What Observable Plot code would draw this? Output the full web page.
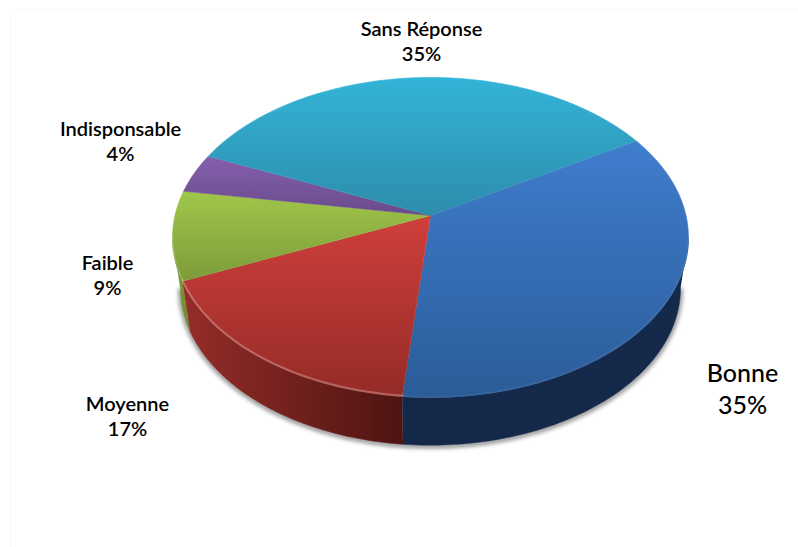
<!DOCTYPE html>
<html>
<head>
<meta charset="utf-8">
<script src="https://cdn.jsdelivr.net/npm/d3@7"></script>
<script src="https://cdn.jsdelivr.net/npm/@observablehq/plot@0.6"></script>
<style>
  html, body { margin: 0; padding: 0; background: #fff; }
</style>
</head>
<body>
<div id="chart"></div>
<script>
// Slice order runs clockwise from the upper right of the disc.
const names = ["Bonne", "Moyenne", "Faible", "Indisponsable", "Sans Réponse"];
const shares = [35, 17, 9, 4, 35];
const faceTop = ["#3f7dce", "#cf3f3b", "#9fc749", "#8560ad", "#33b4d8"];
const faceBottom = ["#2b5c98", "#952b27", "#7d9b3a", "#694a8a", "#2d8cab"];
const wallLeft = ["#14284a", "#952d29", "#7c9a36", "#5a3d78", "#24708a"];
const wallRight = ["#152a4b", "#4d1411", "#6e8a2f", "#5a3d78", "#24708a"];
const rimOpacity = [0.04, 0.26, 0.15, 0.15, 0.15];

// Perspective tilt of the disc and thickness of the drum.
const startAngle = 30.5;
const tilt = -0.1375;
const frontLimit = 8; // degrees below horizontal where the wall comes into view
const wallScaleX = 0.969;
const wallScaleY = 0.98;
const wallDrop = 0.327;

const toRad = (d) => (d * Math.PI) / 180;

function topPoint(deg) {
  const X = Math.cos(toRad(deg));
  const Y = -Math.sin(toRad(deg));
  const w = 1 + tilt * Y;
  return {x: X / w, y: Y / w};
}

function bottomPoint(deg) {
  const p = topPoint(deg);
  return {x: p.x * wallScaleX, y: p.y * wallScaleY + wallDrop};
}

// Angles run downward (clockwise) from `from` to `to`, inclusive.
function arc(from, to, at) {
  const steps = Math.max(2, Math.ceil(Math.abs(from - to)));
  return d3.range(steps + 1).map((i) => at(from + ((to - from) * i) / steps));
}

let running = 0;
const total = d3.sum(shares);
const slices = shares.map((share, i) => {
  const from = startAngle - (360 * running) / total;
  running += share;
  const to = startAngle - (360 * running) / total;
  return {i, from, to};
});

const frontStart = -frontLimit;
const frontEnd = -180 + frontLimit;

const gradients = () => {
  const defs = d3.create("svg:defs");
  slices.forEach(({i}) => {
    const face = defs.append("linearGradient").attr("id", `face-${i}`)
      .attr("x1", 0).attr("y1", 0).attr("x2", 0).attr("y2", 1);
    face.append("stop").attr("offset", 0).attr("stop-color", faceTop[i]);
    face.append("stop").attr("offset", 1).attr("stop-color", faceBottom[i]);
    const wall = defs.append("linearGradient").attr("id", `wall-${i}`)
      .attr("x1", 0).attr("y1", 0).attr("x2", 1).attr("y2", 0);
    wall.append("stop").attr("offset", 0).attr("stop-color", wallLeft[i]);
    wall.append("stop").attr("offset", 1).attr("stop-color", wallRight[i]);
  });
  return defs.node();
};

const marks = [gradients, Plot.frame({stroke: "#f9f9f9", insetLeft: 10, insetTop: 9, insetRight: -5, insetBottom: -5})];

// Soft shadow under the lower edge of the drum.
marks.push(Plot.line(arc(frontStart, frontEnd, bottomPoint), {
  x: "x", y: "y", stroke: "#555", strokeWidth: 4, strokeOpacity: 0.75, dy: 1,
  imageFilter: "blur(2px)"
}));

// Outer walls, only where a slice reaches the front of the drum.
slices.forEach(({i, from, to}) => {
  const a = Math.min(from, frontStart);
  const b = Math.max(to, frontEnd);
  if (a <= b) return;
  const outline = [...arc(a, b, topPoint), ...arc(b, a, bottomPoint)];
  marks.push(Plot.line(outline, {
    x: "x", y: "y", fill: `url(#wall-${i})`, stroke: `url(#wall-${i})`, strokeWidth: 0.5
  }));
});

// Top face of each slice, running from the shared apex around its arc.
slices.forEach(({i, from, to}) => {
  const outline = [{x: 0, y: 0}, ...arc(from, to, topPoint)];
  marks.push(Plot.line(outline, {
    x: "x", y: "y", fill: `url(#face-${i})`, stroke: `url(#face-${i})`, strokeWidth: 0.6
  }));
});

// Pale bevel along the front edge of the face.
slices.forEach(({i, from, to}) => {
  const a = Math.min(from, frontStart);
  const b = Math.max(to, frontEnd);
  if (a <= b) return;
  marks.push(Plot.line(arc(a, b, topPoint), {
    x: "x", y: "y", stroke: "#fff", strokeOpacity: rimOpacity[i], strokeWidth: 2, dy: -1,
    imageFilter: "blur(0.6px)"
  }));
});

// Labels: name above percentage.
const labelFont = {fontFamily: "Lato, 'Open Sans', sans-serif", fill: "#000", frameAnchor: "top-left", lineHeight: 1.27, textAnchor: "middle"};
const labelSpots = [
  {dx: 742, dy: 359, size: 25, weight: 500},
  {dx: 127, dy: 392, size: 20, weight: 600},
  {dx: 107, dy: 251, size: 20, weight: 600},
  {dx: 120, dy: 117, size: 20, weight: 600},
  {dx: 421, dy: 17, size: 20, weight: 600}
];
names.forEach((name, i) => {
  const s = labelSpots[i];
  marks.push(Plot.text([`${name}\n${shares[i]}%`], {
    ...labelFont, text: (d) => d, dx: s.dx, dy: s.dy, fontSize: s.size, fontWeight: s.weight
  }));
});

const radiusX = 255.5;
const radiusY = 157;
const chart = Plot.plot({
  width: 798,
  height: 547,
  margin: 0,
  x: {axis: null, domain: [-1, 1], range: [430 - radiusX, 430 + radiusX]},
  y: {axis: null, domain: [-1, 1], range: [215 - radiusY, 215 + radiusY]},
  style: {background: "#fff"},
  marks
});
document.getElementById("chart").appendChild(chart);
</script>
</body>
</html>
